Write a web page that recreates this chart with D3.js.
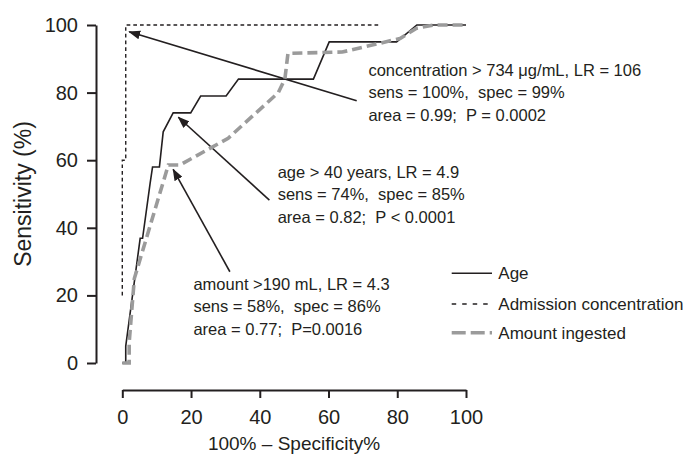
<!DOCTYPE html>
<html>
<head>
<meta charset="utf-8">
<script src="https://cdn.jsdelivr.net/npm/d3@7"></script>
<style>
  body { margin: 0; background: #fff; }
  svg text { font-family: "Liberation Sans", Arial, Helvetica, sans-serif; fill: #231f20; }
</style>
</head>
<body>
<div id="chart"></div>
<script>
// ROC curves: [100 - specificity, sensitivity]
const ageCurve = [[0,0],[1,0],[1,5],[5.2,36.9],[5.9,36.9],[8.1,53.2],[8.8,58],[10.8,58],[11.9,68.4],
  [14.8,74],[19.9,74],[22.8,79],[30.2,79],[33.8,84],[55.6,84],[60.2,95],[79.8,95],[85.7,100],[100,100]];
const concCurve = [[0,20],[0,60],[1,60],[1,100],[75,100]];
const amountCurve = [[0,0],[2,0],[2,6],[3.5,25],[13.4,58.6],[16.8,58.6],[30.8,66.5],[45.4,80],[47.3,84],
  [48.2,91.6],[64,92],[80.8,96],[85.5,99],[90.5,100],[100,100]];

const xTicks = [0, 20, 40, 60, 80, 100];
const yTicks = [0, 20, 40, 60, 80, 100];

const legendLabels = ["Age", "Admission concentration", "Amount ingested"];

// annotations: arrow tail/tip in data units, text anchor in data units
const notes = [
  { from: [68.2, 77.6], to: [2, 98], at: [71.6, 84.9],
    lines: ["concentration > 734 \u03bcg/mL, LR = 106", "sens = 100%,  spec = 99%", "area = 0.99;  P = 0.0002"] },
  { from: [42.8, 48.2], to: [16.3, 72.7], at: [45.2, 54.7],
    lines: ["age > 40 years, LR = 4.9", "sens = 74%,  spec = 85%", "area = 0.82;  P < 0.0001"] },
  { from: [31.3, 27], to: [14.8, 57.3], at: [20.7, 21.6],
    lines: ["amount >190 mL, LR = 4.3", "sens = 58%,  spec = 86%", "area = 0.77;  P=0.0016"] }
];

const width = 690, height = 454;
const ink = "#231f20";

const svg = d3.select("#chart").append("svg")
  .attr("width", width)
  .attr("height", height);

svg.append("defs").append("marker")
  .attr("id", "head")
  .attr("markerUnits", "userSpaceOnUse")
  .attr("markerWidth", 12)
  .attr("markerHeight", 9)
  .attr("refX", 11)
  .attr("refY", 4.5)
  .attr("orient", "auto")
  .append("path")
  .attr("d", "M0,0 L12,4.5 L0,9 Z")
  .attr("fill", ink);

const x = d3.scaleLinear().domain([0, 100]).range([122.3, 466]);
const y = d3.scaleLinear().domain([0, 100]).range([363, 25]);

// y axis
const yAxis = svg.append("g")
  .attr("transform", "translate(96,0)")
  .call(d3.axisLeft(y).tickValues(yTicks).tickSize(9).tickSizeOuter(0).tickPadding(9));
yAxis.selectAll("text").attr("font-size", 20).attr("fill", ink);

// x axis
const xAxis = svg.append("g")
  .attr("transform", "translate(0,390)")
  .call(d3.axisBottom(x).tickValues(xTicks).tickSize(8).tickSizeOuter(0).tickPadding(12));
xAxis.selectAll("text").attr("font-size", 20).attr("fill", ink);

svg.selectAll(".domain, .tick line").attr("stroke", ink).attr("stroke-width", 2);
svg.selectAll(".tick text").attr("font-family", null);

svg.append("text")
  .attr("x", 294)
  .attr("y", 450)
  .attr("text-anchor", "middle")
  .attr("font-size", 19)
  .text("100% \u2013 Specificity%");

svg.append("text")
  .attr("transform", "translate(31,194) rotate(-90)")
  .attr("text-anchor", "middle")
  .attr("font-size", 23)
  .text("Sensitivity (%)");

// arrows
svg.append("g").selectAll("line")
  .data(notes)
  .join("line")
  .attr("x1", d => x(d.from[0]))
  .attr("y1", d => y(d.from[1]))
  .attr("x2", d => x(d.to[0]))
  .attr("y2", d => y(d.to[1]))
  .attr("stroke", ink)
  .attr("stroke-width", 1.6)
  .attr("marker-end", "url(#head)");

// annotation text
notes.forEach(n => {
  const t = svg.append("text")
    .attr("x", x(n.at[0]))
    .attr("y", y(n.at[1]))
    .attr("font-size", 16.5)
    .attr("xml:space", "preserve");
  n.lines.forEach((s, i) => {
    t.append("tspan").attr("x", x(n.at[0])).attr("dy", i === 0 ? 0 : 22.3).text(s);
  });
});

const line = d3.line().x(d => x(d[0])).y(d => y(d[1]));

const styles = [
  { stroke: ink, width: 1.6, dash: null, legendDash: null },
  { stroke: ink, width: 1.4, dash: "3.7,3", legendDash: "4.5,6" },
  { stroke: "#9b9b9b", width: 3.6, dash: "10,5", legendDash: "14,5" }
];

// curves
[ageCurve, concCurve, amountCurve].forEach((c, i) => {
  svg.append("path")
    .datum(c)
    .attr("fill", "none")
    .attr("stroke", styles[i].stroke)
    .attr("stroke-width", styles[i].width)
    .attr("stroke-dasharray", styles[i].dash)
    .attr("d", line);
});

// legend
const legendY = [273.3, 304, 332.7];
const lg = svg.append("g");
legendLabels.forEach((lab, i) => {
  lg.append("line")
    .attr("x1", 451.7).attr("x2", 492)
    .attr("y1", legendY[i]).attr("y2", legendY[i])
    .attr("stroke", styles[i].stroke)
    .attr("stroke-width", styles[i].width)
    .attr("stroke-dasharray", styles[i].legendDash);
  lg.append("text")
    .attr("x", 498.3)
    .attr("y", legendY[i] + 6)
    .attr("font-size", 17)
    .text(lab);
});
</script>
</body>
</html>
